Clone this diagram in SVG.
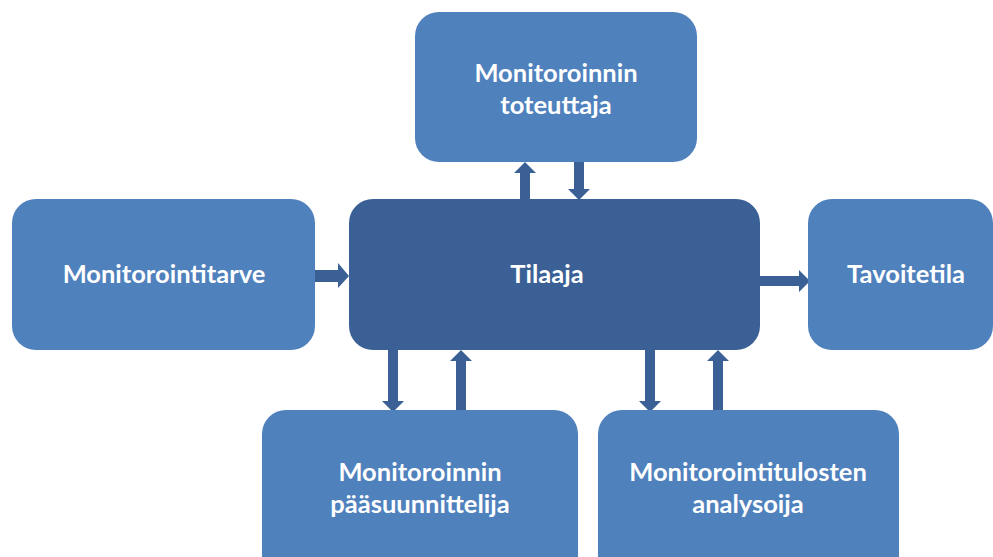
<svg xmlns="http://www.w3.org/2000/svg" width="993" height="557" viewBox="0 0 993 557">
  <style>
    .box { fill: #4F81BD; }
    .hub { fill: #3A6095; }
    .lbl { fill: #FFFFFF; font-family: Lato, "Open Sans", "Liberation Sans", sans-serif; font-weight: bold; font-size: 25.5px; text-anchor: middle; }
    .arr { fill: #3A6095; }
  </style>
  <rect width="993" height="557" fill="#FFFFFF"/>

  <g id="connectors">
    <!-- Monitorointitarve -> Tilaaja -->
    <polygon class="arr" points="315,270 338,270 338,263 349,276 338,288 338,282 315,282"/>
    <!-- Tilaaja -> Tavoitetila -->
    <polygon class="arr" points="760,276 799,276 799,270 810,281 799,292 799,286 760,286"/>
    <!-- Tilaaja <-> Monitoroinnin toteuttaja -->
    <polygon class="arr" points="520,199 520,173 514,173 525,162 536,173 530,173 530,199"/>
    <polygon class="arr" points="574,162 584,162 584,189 590,189 579,200 568,189 574,189"/>
    <!-- Tilaaja <-> Monitoroinnin pääsuunnittelija -->
    <polygon class="arr" points="388,350 398,350 398,401 404,401 393,412 382,401 388,401"/>
    <polygon class="arr" points="456,411 456,361 450,361 461,350 472,361 466,361 466,411"/>
    <!-- Tilaaja <-> Monitorointitulosten analysoija -->
    <polygon class="arr" points="645,350 655,350 655,401 661,401 650,412 639,401 645,401"/>
    <polygon class="arr" points="713,411 713,361 707,361 718,350 729,361 723,361 723,411"/>
  </g>

  <g id="toteuttaja">
    <rect class="box" x="415" y="12" width="282" height="150" rx="24"/>
    <text class="lbl" x="556" y="82">Monitoroinnin</text>
    <text class="lbl" x="556" y="114">toteuttaja</text>
  </g>

  <g id="tarve">
    <rect class="box" x="12" y="199" width="303" height="151" rx="24"/>
    <text class="lbl" x="164" y="283">Monitorointitarve</text>
  </g>

  <g id="tilaaja">
    <rect class="hub" x="349" y="199" width="411" height="151" rx="24"/>
    <text class="lbl" x="547" y="283">Tilaaja</text>
  </g>

  <g id="tavoitetila">
    <rect class="box" x="808" y="199" width="185" height="151" rx="24"/>
    <text class="lbl" x="906" y="283">Tavoitetila</text>
  </g>

  <g id="paasuunnittelija">
    <rect class="box" x="262" y="410" width="316" height="170" rx="24"/>
    <text class="lbl" x="420" y="481">Monitoroinnin</text>
    <text class="lbl" x="420" y="513">pääsuunnittelija</text>
  </g>

  <g id="analysoija">
    <rect class="box" x="598" y="410" width="301" height="170" rx="24"/>
    <text class="lbl" x="748" y="481">Monitorointitulosten</text>
    <text class="lbl" x="748" y="513">analysoija</text>
  </g>
</svg>
